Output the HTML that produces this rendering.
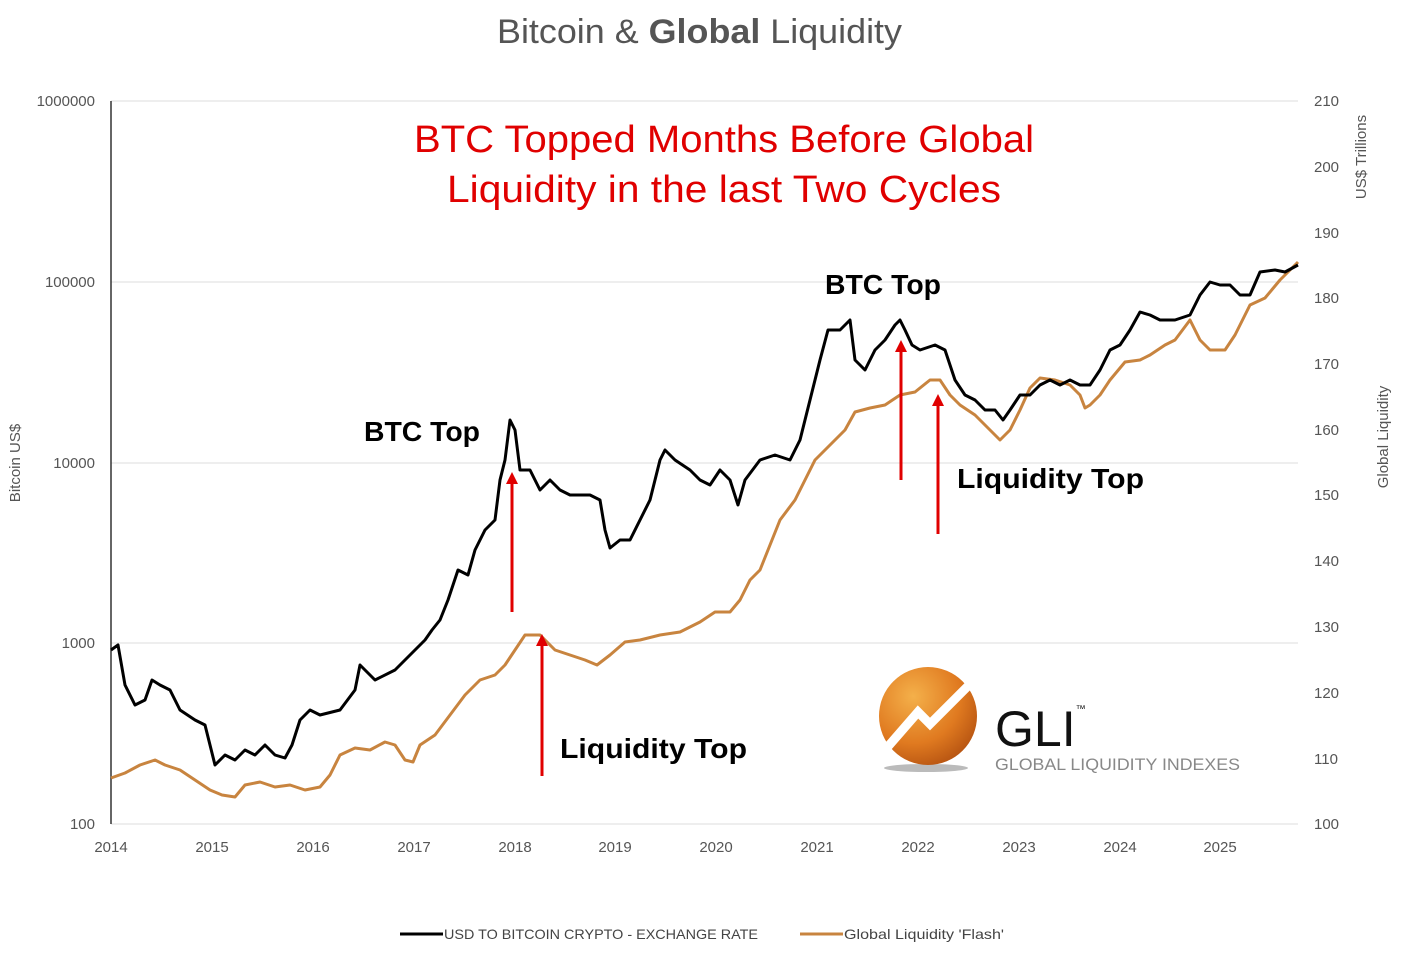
<!DOCTYPE html>
<html><head><meta charset="utf-8"><style>
body{margin:0;background:#fff;}
svg{display:block;font-family:"Liberation Sans","DejaVu Sans",sans-serif;}
</style></head><body>
<svg width="1409" height="954" viewBox="0 0 1409 954" xmlns="http://www.w3.org/2000/svg">
<defs>
<radialGradient id="og" cx="0.35" cy="0.3" r="0.8">
<stop offset="0" stop-color="#f4b04a"/><stop offset="0.6" stop-color="#e07a20"/><stop offset="1" stop-color="#b14f10"/>
</radialGradient>
<marker id="ar" viewBox="0 0 10 10" refX="5" refY="5" markerWidth="4" markerHeight="4" orient="auto"><path d="M0,0L10,5L0,10z" fill="#e00000"/></marker>
</defs>
<text x="497" y="43" textLength="405" lengthAdjust="spacingAndGlyphs" font-size="34" fill="#555">Bitcoin &amp; <tspan font-weight="bold">Global</tspan> Liquidity</text>
<g stroke="#ddd" stroke-width="1">
<line x1="111" y1="101" x2="1298" y2="101"/><line x1="111" y1="282" x2="1298" y2="282"/>
<line x1="111" y1="463" x2="1298" y2="463"/><line x1="111" y1="643" x2="1298" y2="643"/>
<line x1="111" y1="824" x2="1298" y2="824"/>
</g>
<line x1="111" y1="101" x2="111" y2="824" stroke="#333" stroke-width="1.5"/>
<g font-size="15" fill="#555" text-anchor="end">
<text x="95" y="106">1000000</text><text x="95" y="287">100000</text><text x="95" y="468">10000</text><text x="95" y="648">1000</text><text x="95" y="829">100</text>
</g>
<g font-size="15" fill="#555">
<text x="1314" y="106">210</text><text x="1314" y="172">200</text><text x="1314" y="238">190</text><text x="1314" y="303">180</text><text x="1314" y="369">170</text><text x="1314" y="435">160</text><text x="1314" y="500">150</text><text x="1314" y="566">140</text><text x="1314" y="632">130</text><text x="1314" y="698">120</text><text x="1314" y="764">110</text><text x="1314" y="829">100</text>
</g>
<g font-size="15" fill="#555" text-anchor="middle">
<text x="111" y="852">2014</text><text x="212" y="852">2015</text><text x="313" y="852">2016</text><text x="414" y="852">2017</text><text x="515" y="852">2018</text><text x="615" y="852">2019</text><text x="716" y="852">2020</text><text x="817" y="852">2021</text><text x="918" y="852">2022</text><text x="1019" y="852">2023</text><text x="1120" y="852">2024</text><text x="1220" y="852">2025</text>
</g>
<text transform="translate(20,463) rotate(-90)" text-anchor="middle" font-size="15" fill="#555">Bitcoin US$</text>
<text transform="translate(1366,157) rotate(-90)" text-anchor="middle" font-size="15" fill="#555">US$ Trillions</text>
<text transform="translate(1388,437) rotate(-90)" text-anchor="middle" font-size="15" fill="#555">Global Liquidity</text>
<polyline fill="none" stroke="#c8843f" stroke-width="3" stroke-linejoin="round" points="111,778 125,773 140,765 155,760 165,765 180,770 195,780 210,790 222,795 235,797 245,785 260,782 275,787 290,785 305,790 320,787 330,775 340,755 355,748 370,750 385,742 395,745 405,760 413,762 420,745 435,735 450,715 465,695 480,680 495,675 505,665 515,650 525,635 540,635 555,650 570,655 585,660 597,665 610,655 625,642 640,640 660,635 680,632 700,622 715,612 730,612 740,600 750,580 760,570 770,545 780,520 795,500 805,480 815,460 830,445 845,430 855,412 870,408 885,405 900,395 915,392 930,380 940,380 950,395 960,405 975,415 990,430 1000,440 1010,430 1020,410 1030,388 1040,378 1055,380 1070,385 1080,395 1085,408 1090,405 1100,395 1110,380 1125,362 1140,360 1150,355 1165,345 1175,340 1190,320 1200,340 1210,350 1225,350 1235,335 1250,305 1265,298 1280,280 1298,262"/>
<polyline fill="none" stroke="#000" stroke-width="3" stroke-linejoin="round" points="111,650 118,645 125,685 135,705 145,700 152,680 160,685 170,690 180,710 195,720 205,725 215,765 225,755 235,760 245,750 255,755 265,745 275,755 285,758 292,745 300,720 310,710 320,715 340,710 355,690 360,665 375,680 395,670 410,655 425,640 432,630 440,620 448,600 458,570 468,575 475,550 485,530 495,520 500,480 505,460 510,420 515,430 520,470 530,470 540,490 550,480 560,490 570,495 590,495 600,500 605,530 610,548 620,540 630,540 640,520 650,500 660,460 665,450 675,460 690,470 700,480 710,485 720,470 730,480 738,505 745,480 760,460 775,455 790,460 800,440 805,420 815,380 820,360 828,330 840,330 850,320 855,360 865,370 875,350 885,340 895,325 900,320 905,330 912,345 920,350 935,345 945,350 955,380 965,395 975,400 985,410 995,410 1003,420 1010,410 1020,395 1030,395 1040,385 1050,380 1060,385 1070,380 1080,385 1090,385 1100,370 1110,350 1120,345 1130,330 1140,312 1150,315 1160,320 1175,320 1190,315 1200,295 1210,282 1220,285 1230,285 1240,295 1250,295 1260,272 1275,270 1285,272 1298,265"/>
<g font-size="38" fill="#e00000">
<text x="414" y="152" textLength="620" lengthAdjust="spacingAndGlyphs">BTC Topped Months Before Global</text>
<text x="447" y="202" textLength="554" lengthAdjust="spacingAndGlyphs">Liquidity in the last Two Cycles</text>
</g>
<g stroke="#e00000" stroke-width="3" marker-end="url(#ar)">
<line x1="512" y1="612" x2="512" y2="478"/><line x1="542" y1="776" x2="542" y2="640"/>
<line x1="901" y1="480" x2="901" y2="346"/><line x1="938" y1="534" x2="938" y2="400"/>
</g>
<g font-size="28" font-weight="bold" fill="#000">
<text x="364" y="441" textLength="116" lengthAdjust="spacingAndGlyphs">BTC Top</text><text x="825" y="294" textLength="116" lengthAdjust="spacingAndGlyphs">BTC Top</text>
<text x="560" y="758" textLength="187" lengthAdjust="spacingAndGlyphs">Liquidity Top</text><text x="957" y="488" textLength="187" lengthAdjust="spacingAndGlyphs">Liquidity Top</text>
</g>
<ellipse cx="926" cy="768" rx="42" ry="4" fill="#bbb"/>
<circle cx="928" cy="716" r="49" fill="url(#og)"/>
<polyline points="885,750 918,712 930,724 972,682" fill="none" stroke="#fff" stroke-width="9"/>
<text x="995" y="746" font-size="50" fill="#111">GLI<tspan font-size="10" dy="-34">™</tspan></text>
<text x="995" y="770" font-size="17" fill="#888" textLength="245" lengthAdjust="spacingAndGlyphs">GLOBAL LIQUIDITY INDEXES</text>
<line x1="400" y1="934" x2="443" y2="934" stroke="#000" stroke-width="3"/>
<text x="444" y="939" font-size="14" fill="#444" textLength="314" lengthAdjust="spacingAndGlyphs">USD TO BITCOIN CRYPTO - EXCHANGE RATE</text>
<line x1="800" y1="934" x2="843" y2="934" stroke="#c8843f" stroke-width="3"/>
<text x="844" y="939" font-size="14" fill="#444" textLength="160" lengthAdjust="spacingAndGlyphs">Global Liquidity 'Flash'</text>
</svg>
</body></html>
